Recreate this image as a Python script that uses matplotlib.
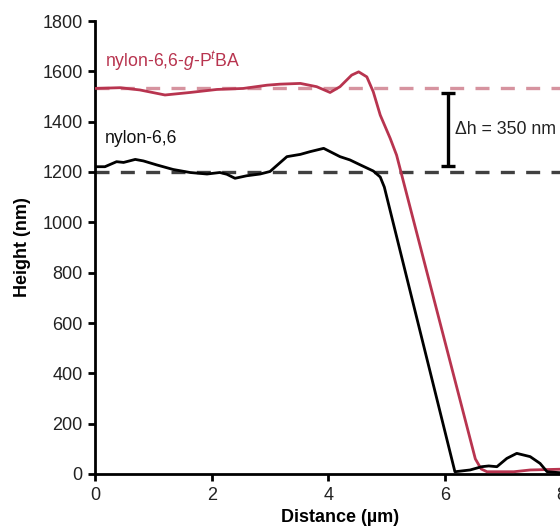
import matplotlib
matplotlib.use("Agg")
import matplotlib.pyplot as plt

plt.rcParams['font.family'] = ['Liberation Sans', 'DejaVu Sans']
plt.rcParams['mathtext.fontset'] = 'custom'
plt.rcParams['mathtext.rm'] = 'Liberation Sans'
plt.rcParams['mathtext.it'] = 'Liberation Sans:italic'

# height profiles (distance in um, height in nm)
grafted_x = [0, 0.43, 0.77, 1.2, 1.63, 2.09, 2.54, 2.95, 3.17, 3.52, 3.80, 4.03, 4.20, 4.40,
             4.52, 4.66, 4.77, 4.89, 5.06, 5.17, 6.52, 6.62, 6.72, 7.18, 7.46, 7.98, 8.4]
grafted_y = [1532, 1535, 1526, 1506, 1516, 1528, 1532, 1545, 1549, 1552, 1539, 1516, 1539, 1585,
             1598, 1578, 1519, 1426, 1334, 1267, 60, 20, 9, 9, 16, 19, 20]

nylon_x = [0, 0.17, 0.37, 0.49, 0.69, 0.83, 1.06, 1.34, 1.63, 1.92, 2.14, 2.26, 2.40, 2.60,
           2.83, 3.0, 3.29, 3.52, 3.69, 3.92, 4.20, 4.37, 4.55, 4.77, 4.89, 4.96, 6.17,
           6.43, 6.63, 6.75, 6.89, 7.06, 7.23, 7.46, 7.63, 7.75, 7.98, 8.4]
nylon_y = [1221, 1221, 1241, 1238, 1250, 1244, 1228, 1210, 1198, 1192, 1198, 1191, 1175, 1185,
           1192, 1202, 1261, 1270, 1281, 1294, 1261, 1248, 1228, 1204, 1180, 1140, 9,
           16, 29, 32, 29, 62, 82, 69, 42, 9, 5, 5]

grafted_level = 1532
nylon_level = 1200
step_x = 6.06
step_low = 1225
step_high = 1515

red = "#b8344f"
pink = "#d6939f"

fig = plt.figure(figsize=(5.6, 5.27), dpi=100)
ax = fig.add_axes([95 / 560, 53 / 527, 490 / 560, 453 / 527])

ax.plot([0, 8.4], [grafted_level, grafted_level], color=pink, lw=2.4,
        dashes=(4.2, 3.4), zorder=1)
ax.plot([0, 8.4], [nylon_level, nylon_level], color="#404040", lw=2.4,
        dashes=(4.2, 3.4), zorder=1)
ax.plot(grafted_x, grafted_y, color=red, lw=2.0, zorder=3)
ax.plot(nylon_x, nylon_y, color="black", lw=2.0, zorder=3)

ax.errorbar([step_x], [(step_low + step_high) / 2], yerr=[(step_high - step_low) / 2],
            color="black", elinewidth=2.4, capsize=5, capthick=2.4, zorder=4)
ax.text(step_x + 0.12, (step_low + step_high) / 2, "Δh = 350 nm", fontsize=12.8,
        va="center", ha="left", color="#222222")

ax.text(0.17, 1640, r"nylon-6,6-$\it{g}$-P$^{\it{t}}$BA", fontsize=12.7, color=red,
        va="center", ha="left")
ax.text(0.17, 1335, "nylon-6,6", fontsize=12.7, color="#111111", va="center", ha="left")

ax.set_xlim(0, 8.4)
ax.set_ylim(0, 1800)
ax.set_xticks([0, 2, 4, 6, 8])
ax.set_yticks(range(0, 1801, 200))
ax.spines['top'].set_visible(False)
ax.spines['right'].set_visible(False)
for s in ['left', 'bottom']:
    ax.spines[s].set_linewidth(2.0)
ax.tick_params(width=2.0, length=5, labelsize=13, colors="black", labelcolor="#222222", pad=4)

ax.set_xlabel("Distance (µm)", fontsize=13, fontweight="bold", labelpad=4)
ax.set_ylabel("Height (nm)", fontsize=13, fontweight="bold", labelpad=8)

fig.savefig("out.png", dpi=100)
